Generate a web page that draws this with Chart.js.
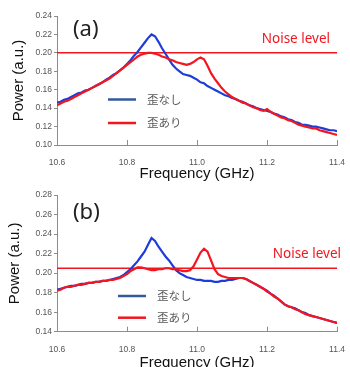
<!DOCTYPE html>
<html>
<head>
<meta charset="utf-8">
<script src="https://cdn.jsdelivr.net/npm/chart.js"></script>
<style>
  html, body { margin: 0; padding: 0; background: #fff; overflow: hidden; width: 350px; height: 367px; }
  .panel { position: absolute; left: 0; width: 350px; }
  #wrapA { top: 0; height: 183px; }
  #wrapB { top: 183px; height: 190px; }
</style>
</head>
<body>
<div class="panel" id="wrapA"><canvas id="chartA" width="350" height="183"></canvas></div>
<div class="panel" id="wrapB"><canvas id="chartB" width="350" height="190"></canvas></div>
<script>
// frequency grid (GHz), shared by all four traces
const freq = [
  10.60, 10.61, 10.62, 10.63, 10.64, 10.65, 10.66, 10.67, 10.68, 10.69,
  10.70, 10.71, 10.72, 10.73, 10.74, 10.75, 10.76, 10.77, 10.78, 10.79,
  10.80, 10.81, 10.82, 10.83, 10.84, 10.85, 10.86, 10.87, 10.88, 10.89,
  10.90, 10.91, 10.92, 10.93, 10.94, 10.95, 10.96, 10.97, 10.98, 10.99,
  11.00, 11.01, 11.02, 11.03, 11.04, 11.05, 11.06, 11.07, 11.08, 11.09,
  11.10, 11.11, 11.12, 11.13, 11.14, 11.15, 11.16, 11.17, 11.18, 11.19,
  11.20, 11.21, 11.22, 11.23, 11.24, 11.25, 11.26, 11.27, 11.28, 11.29,
  11.30, 11.31, 11.32, 11.33, 11.34, 11.35, 11.36, 11.37, 11.38, 11.39,
  11.40
];

// panel (a)
const blueA = [
  .146, .147, .149, .150, .152, .154, .156, .157, .159, .160,
  .162, .164, .166, .168, .171, .173, .176, .178, .181, .184,
  .188, .192, .197, .201, .206, .211, .216, .220, .218, .212,
  .205, .199, .193, .187, .183, .180, .177, .176, .175, .173,
  .171, .168, .167, .164, .162, .160, .158, .156, .154, .153,
  .151, .150, .148, .147, .145, .143, .142, .140, .139, .138,
  .137, .136, .134, .133, .131, .130, .128, .127, .125, .124,
  .122, .122, .121, .120, .120, .119, .118, .117, .116, .116,
  .115
];
const redA = [
  .143, .145, .147, .148, .150, .152, .154, .156, .158, .160,
  .162, .164, .166, .168, .170, .172, .175, .178, .181, .184,
  .187, .190, .193, .196, .198, .199, .200, .200, .199, .198,
  .196, .195, .193, .192, .190, .189, .188, .187, .188, .190,
  .193, .195, .193, .186, .178, .172, .167, .162, .158, .155,
  .152, .150, .148, .146, .145, .143, .141, .140, .138, .137,
  .139, .136, .134, .132, .130, .129, .127, .126, .124, .122,
  .121, .120, .119, .118, .118, .116, .115, .114, .113, .112,
  .111
];

// panel (b)
const blueB = [
  .183, .184, .185, .186, .187, .187, .188, .189, .189, .190,
  .190, .191, .191, .192, .192, .193, .194, .195, .196, .198,
  .201, .204, .208, .212, .217, .222, .229, .236, .233, .227,
  .222, .217, .213, .208, .203, .200, .198, .196, .195, .194,
  .193, .193, .192, .192, .192, .191, .191, .192, .192, .193,
  .193, .194, .195, .195, .194, .192, .190, .188, .186, .184,
  .182, .179, .177, .174, .171, .168, .166, .165, .164, .162,
  .160, .159, .157, .156, .155, .154, .153, .152, .151, .150,
  .149
];
const redB = [
  .182, .183, .185, .186, .186, .187, .188, .188, .189, .190,
  .190, .191, .191, .192, .192, .193, .193, .194, .195, .197,
  .199, .202, .204, .206, .206, .205, .204, .203, .203, .204,
  .204, .205, .205, .204, .204, .203, .202, .202, .203, .207,
  .214, .221, .225, .222, .213, .204, .199, .197, .196, .195,
  .195, .195, .195, .195, .194, .192, .190, .188, .186, .184,
  .181, .179, .176, .174, .171, .168, .166, .165, .163, .162,
  .160, .158, .157, .156, .155, .154, .153, .152, .151, .150,
  .149
];

const noiseA = 0.20;
const noiseB = 0.205;

const xTicks = [10.6, 10.8, 11.0, 11.2, 11.4];
const yTicksA = [0.10, 0.12, 0.14, 0.16, 0.18, 0.20, 0.22, 0.24];
const yTicksB = [0.14, 0.16, 0.18, 0.20, 0.22, 0.24, 0.26, 0.28];
const seriesNames = ["歪なし", "歪あり"];
const noiseLabel = "Noise level";

const BLUE = "#1e3cd8";
const BLUE_LEG = "#34589c";
const RED = "#f3161e";
const AXIS = "#8c8c8c";
const SANS = "'Liberation Sans', Arial, sans-serif";

function pts(ys) {
  return freq.map((f, i) => ({ x: f, y: ys[i] }));
}

// inward x ticks, panel tag, "Noise level" text and the little legend
const decor = {
  id: "decor",
  afterDraw(chart, args, o) {
    const ctx = chart.ctx;
    const xs = chart.scales.x;
    const ys = chart.scales.y;
    ctx.save();

    ctx.strokeStyle = AXIS;
    ctx.lineWidth = 1;
    xTicks.forEach(v => {
      const px = Math.round(xs.getPixelForValue(v)) + 0.5;
      ctx.beginPath();
      ctx.moveTo(px, ys.bottom);
      ctx.lineTo(px, ys.bottom - 5);
      ctx.stroke();
    });

    ctx.textBaseline = "middle";
    ctx.fillStyle = "#222";
    ctx.textAlign = "left";
    ctx.font = "22px 'Noto Sans', sans-serif";
    ctx.fillText(o.tag, o.tagX, o.tagY);

    ctx.fillStyle = RED;
    ctx.textAlign = "right";
    ctx.font = "13.5px 'Noto Sans', sans-serif";
    ctx.fillText(noiseLabel, o.noiseX, ys.getPixelForValue(o.noise) - o.noiseGap);

    [BLUE_LEG, RED].forEach((c, i) => {
      const y = o.legY + i * o.legGap;
      ctx.strokeStyle = c;
      ctx.lineWidth = 2.5;
      ctx.beginPath();
      ctx.moveTo(o.legX, y);
      ctx.lineTo(o.legX + 28, y);
      ctx.stroke();
      ctx.fillStyle = "#595959";
      ctx.textAlign = "left";
      ctx.font = "11.5px 'Noto Sans CJK JP', sans-serif";
      ctx.fillText(seriesNames[i], o.legX + 39, y);
    });

    ctx.restore();
  }
};

function makeChart(id, blue, red, noise, yTicks, o) {
  const ctx = document.getElementById(id).getContext("2d");
  return new Chart(ctx, {
    type: "line",
    data: {
      datasets: [
        { label: seriesNames[1], data: pts(red), borderColor: RED, borderWidth: 2.2 },
        { label: seriesNames[0], data: pts(blue), borderColor: BLUE, borderWidth: 2.2 },
        {
          label: noiseLabel,
          data: [{ x: xTicks[0], y: noise }, { x: xTicks[xTicks.length - 1], y: noise }],
          borderColor: RED,
          borderWidth: 1.5,
        },
      ],
    },
    options: {
      responsive: false,
      animation: false,
      events: [],
      elements: { point: { radius: 0 }, line: { tension: 0 } },
      layout: { padding: { top: o.padTop, right: 10, left: 0, bottom: 0 } },
      plugins: {
        legend: { display: false },
        tooltip: { enabled: false },
        decor: o,
      },
      scales: {
        x: {
          type: "linear",
          min: xTicks[0],
          max: xTicks[xTicks.length - 1],
          afterBuildTicks: s => { s.ticks = xTicks.map(v => ({ value: v })); },
          afterFit: s => { s.height = o.xH; },
          ticks: {
            callback: v => v.toFixed(1),
            color: "#555",
            font: { family: SANS, size: 8.5 },
            padding: 5,
            maxRotation: 0,
            autoSkip: false,
          },
          grid: { display: false },
          border: { color: AXIS, width: 1 },
          title: {
            display: true,
            text: "Frequency (GHz)",
            color: "#111",
            font: { family: SANS, size: 15 },
            padding: { top: 0, bottom: o.xTitlePad },
          },
        },
        y: {
          min: yTicks[0],
          max: yTicks[yTicks.length - 1],
          afterBuildTicks: s => { s.ticks = yTicks.map(v => ({ value: v })); },
          afterFit: s => { s.width = 57; },
          ticks: {
            callback: v => v.toFixed(2),
            color: "#555",
            font: { family: SANS, size: 8.5 },
            padding: 2,
          },
          grid: { drawOnChartArea: false, tickLength: 3, color: AXIS },
          border: { color: AXIS, width: 1 },
          title: {
            display: true,
            text: "Power (a.u.)",
            color: "#111",
            font: { family: SANS, size: 15 },
            padding: { top: o.yTitlePad, bottom: 0 },
          },
        },
      },
    },
    plugins: [decor],
  });
}

makeChart("chartA", blueA, redA, noiseA, yTicksA, {
  padTop: 16, xH: 38, xTitlePad: 0, yTitlePad: 9.5,
  tag: "(a)", tagX: 73, tagY: 30,
  noise: noiseA, noiseX: 330, noiseGap: 14,
  legX: 108, legY: 99.5, legGap: 23.5,
});

makeChart("chartB", blueB, redB, noiseB, yTicksB, {
  padTop: 12, xH: 41.3, xTitlePad: 1, yTitlePad: 6,
  tag: "(b)", tagX: 73, tagY: 30,
  noise: noiseB, noiseX: 341, noiseGap: 13.7,
  legX: 118, legY: 113, legGap: 21.7,
});
</script>
</body>
</html>
